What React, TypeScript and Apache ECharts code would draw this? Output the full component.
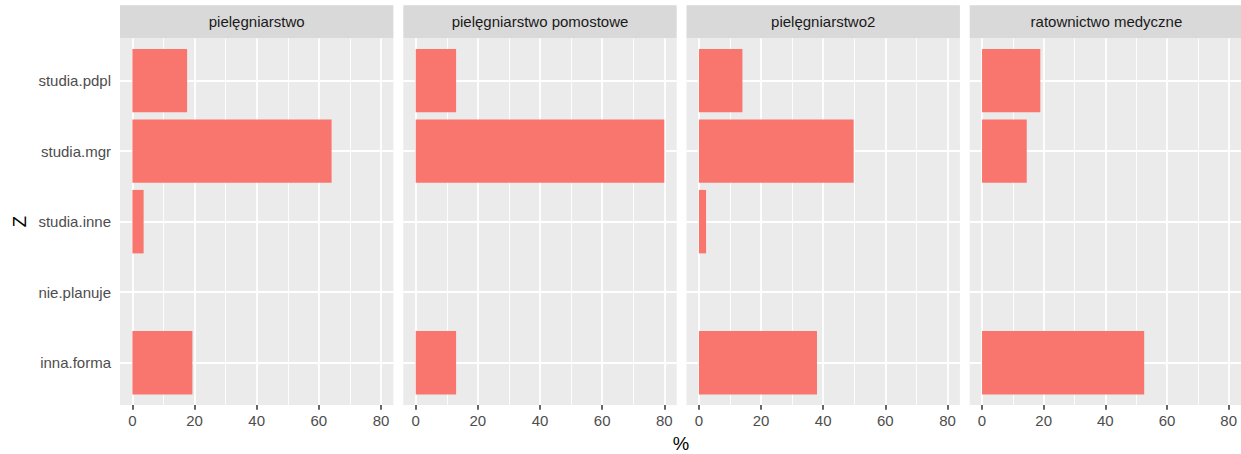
import React, { useEffect, useRef } from "react";
import * as echarts from "echarts";

const categories = ["studia.pdpl", "studia.mgr", "studia.inne", "nie.planuje", "inna.forma"];
const panelNames = ["pielęgniarstwo", "pielęgniarstwo pomostowe", "pielęgniarstwo2", "ratownictwo medyczne"];
const valuesPielegniarstwo = [17.6, 64.1, 3.6, 0, 19.3];
const valuesPomostowe = [13.0, 80.0, 0, 0, 13.0];
const valuesPielegniarstwo2 = [14.0, 49.8, 2.3, 0, 38.0];
const valuesRatownictwo = [18.9, 14.5, 0, 0, 52.6];
const panelValues = [valuesPielegniarstwo, valuesPomostowe, valuesPielegniarstwo2, valuesRatownictwo];
const majorTicks = [0, 20, 40, 60, 80];
const minorTicks = [10, 30, 50, 70];
const xMin = -4;
const xMax = 84;

const FONT = "'Liberation Sans', Arial, Helvetica, sans-serif";

export default function App() {
  const ref = useRef<HTMLDivElement>(null);
  useEffect(() => {
    if (!ref.current) return;
    const chart = echarts.init(ref.current, null, { renderer: "svg" });
    const panelLefts = [120, 403.3, 686.5, 969.7];
    const pw = 273.4;
    const pTop = 38.3;
    const pBottom = 405;
    const ph = pBottom - pTop;
    const step = ph / 5.2;
    const catTop = pTop + 0.1 * step;
    const catH = 5 * step;

    const grid: any[] = [];
    const xAxis: any[] = [];
    const yAxis: any[] = [];
    const series: any[] = [];
    const graphic: any[] = [];

    panelLefts.forEach((L, i) => {
      grid.push({ left: L, top: pTop, width: pw, height: ph, show: true, backgroundColor: "#EBEBEB", borderWidth: 0 });
      grid.push({ left: L, top: catTop, width: pw, height: catH, show: false });
      xAxis.push({
        type: "value", gridIndex: 2 * i, min: xMin, max: xMax,
        axisLine: { show: false },
        axisTick: { show: true, customValues: majorTicks, length: 4.7, lineStyle: { color: "#333333", width: 1.5 } },
        axisLabel: { customValues: majorTicks, color: "#4D4D4D", fontSize: 15, margin: 8, fontFamily: FONT },
        splitLine: { show: false },
      });
      xAxis.push({ type: "value", gridIndex: 2 * i + 1, min: xMin, max: xMax, show: false });
      yAxis.push({ type: "value", gridIndex: 2 * i, min: 0, max: 1, show: false });
      yAxis.push({
        type: "category", gridIndex: 2 * i + 1, data: categories, inverse: true,
        axisLine: { show: false },
        axisTick: { show: i === 0, alignWithLabel: true, length: 4.7, lineStyle: { color: "#333333", width: 1.5 } },
        axisLabel: { show: i === 0, color: "#4D4D4D", fontSize: 15, margin: 9, fontFamily: FONT },
        splitLine: { show: false },
        name: i === 0 ? "Z" : "",
        nameLocation: "middle",
        nameGap: 91,
        nameRotate: 90,
        nameTextStyle: { fontSize: 18.5, color: "#000000", fontFamily: FONT },
      });
      series.push({
        type: "line", xAxisIndex: 2 * i, yAxisIndex: 2 * i, data: [], z: 1, silent: true,
        markLine: {
          silent: true, z: 1, symbol: ["none", "none"], label: { show: false },
          data: [
            ...majorTicks.map((v) => ({ xAxis: v, lineStyle: { color: "#FFFFFF", width: 1.8, type: "solid" } })),
            ...minorTicks.map((v) => ({ xAxis: v, lineStyle: { color: "#FFFFFF", width: 0.9, type: "solid" } })),
          ],
        },
      });
      series.push({
        type: "line", xAxisIndex: 2 * i + 1, yAxisIndex: 2 * i + 1, data: [], z: 1, silent: true,
        markLine: {
          silent: true, z: 1, symbol: ["none", "none"], label: { show: false },
          lineStyle: { color: "#FFFFFF", width: 1.8, type: "solid" },
          data: categories.map((c) => ({ yAxis: c })),
        },
      });
      series.push({
        type: "bar", xAxisIndex: 2 * i + 1, yAxisIndex: 2 * i + 1, data: panelValues[i],
        barWidth: "90%", itemStyle: { color: "#F8766D" }, z: 10,
      });
      graphic.push({ type: "rect", shape: { x: L, y: 5.3, width: pw, height: pTop - 5.3 }, style: { fill: "#D9D9D9" }, z: 0 });
      graphic.push({
        type: "text", x: L + pw / 2, y: (5.3 + pTop) / 2,
        style: { text: panelNames[i], fill: "#1A1A1A", fontSize: 15, fontFamily: FONT, textAlign: "center", textVerticalAlign: "middle" },
        z: 1,
      });
    });

    graphic.push({
      type: "text", x: 681, y: 443,
      style: { text: "%", fill: "#000000", fontSize: 18.5, fontFamily: FONT, textAlign: "center", textVerticalAlign: "middle" },
    });

    chart.setOption({ animation: false, grid, xAxis, yAxis, series, graphic });
    return () => chart.dispose();
  }, []);
  return <div ref={ref} style={{ position: "absolute", left: 0, top: 0, width: 1241, height: 454, background: "#FFFFFF" }} />;
}
